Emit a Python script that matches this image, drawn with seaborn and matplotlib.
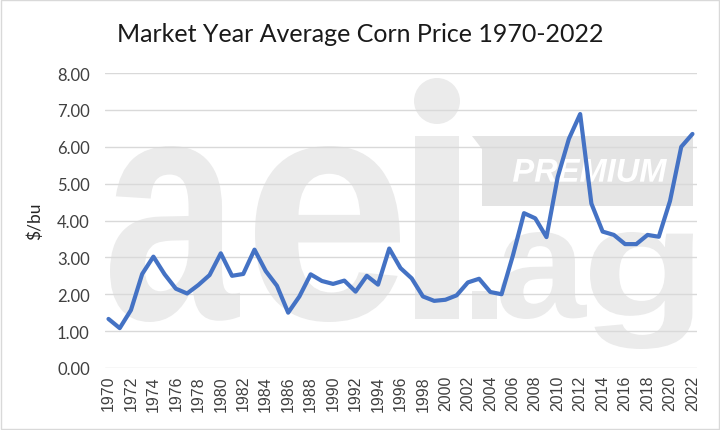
import matplotlib
matplotlib.use("Agg")
import matplotlib.pyplot as plt
import matplotlib.patches as patches
from matplotlib.textpath import TextPath
from matplotlib.font_manager import FontProperties
from matplotlib.path import Path
import seaborn as sns
import pandas as pd

sns.set_theme(style="white")
plt.rcParams['font.family'] = ['Lato', 'DejaVu Sans']

# market year average corn price, $/bu
years = list(range(1970, 2023))
prices = [1.33, 1.08, 1.57, 2.55, 3.02, 2.54, 2.15, 2.02, 2.25, 2.52,
          3.11, 2.50, 2.55, 3.21, 2.63, 2.23, 1.50, 1.94, 2.54, 2.36,
          2.28, 2.37, 2.07, 2.50, 2.26, 3.24, 2.71, 2.43, 1.94, 1.82,
          1.85, 1.97, 2.32, 2.42, 2.06, 2.00, 3.04, 4.20, 4.06, 3.55,
          5.18, 6.22, 6.89, 4.46, 3.70, 3.61, 3.36, 3.36, 3.61, 3.56,
          4.53, 6.00, 6.35]
y_ticks = [0, 1, 2, 3, 4, 5, 6, 7, 8]
x_ticks = list(range(1970, 2023, 2))

df = pd.DataFrame({"Year": years, "Price": prices})

W, H = 720, 431
fig = plt.figure(figsize=(W / 100, H / 100), dpi=100)
fig.patch.set_facecolor("white")

wm = "#ebebeb"


def glyph(s, box, color=wm, weight="bold", style="normal", z=-2):
    # squeeze a glyph into a pixel box (top-left origin) as a background watermark
    x0, y0, x1, y1 = box
    prop = FontProperties(family="Liberation Sans", weight=weight, style=style)
    tp = TextPath((0, 0), s, size=100, prop=prop)
    ext = tp.get_extents()
    v = tp.vertices.copy()
    v[:, 0] = (x0 + (v[:, 0] - ext.x0) / ext.width * (x1 - x0)) / W
    v[:, 1] = ((H - y1) + (v[:, 1] - ext.y0) / ext.height * (y1 - y0)) / H
    p = patches.PathPatch(Path(v, tp.codes), transform=fig.transFigure,
                          facecolor=color, edgecolor="none", zorder=z)
    fig.add_artist(p)


glyph("a", (110, 147, 240, 323))
glyph("e", (255, 147, 400, 323))
glyph("\u0131", (415, 137, 459, 320))
fig.add_artist(patches.Ellipse((437 / W, 1 - 102 / H), 46 / W, 46 / H,
                               transform=fig.transFigure, facecolor=wm,
                               edgecolor="none", zorder=-2))
glyph(".", (472, 292, 497, 320))
glyph("a", (500, 233, 587, 320))
glyph("g", (590, 233, 693, 350))

band = patches.Polygon([(472 / W, 1 - 137 / H), (693 / W, 1 - 137 / H),
                        (693 / W, 1 - 207 / H), (482 / W, 1 - 207 / H),
                        (482 / W, 1 - 150 / H)],
                       closed=True, transform=fig.transFigure, facecolor="#e4e4e4",
                       edgecolor="none", zorder=-1)
fig.add_artist(band)
glyph("PREMIUM", (513, 160, 667, 183), color="white", style="italic", z=-0.5)

ax = fig.add_axes([0.146, 0.144, 0.822, 0.684])
ax.patch.set_alpha(0)

sns.lineplot(data=df, x="Year", y="Price", color="#4472C4", linewidth=3, ax=ax)

ax.set_ylim(0, 8)
ax.set_xlim(1969.7, 2022.4)
ax.set_yticks(y_ticks)
ax.set_yticklabels([f"{v:.2f}" for v in y_ticks], fontsize=12, color="#404040")
ax.set_xticks(x_ticks)
ax.set_xticklabels([str(v) for v in x_ticks], rotation=90, fontsize=11.5,
                   color="#404040", family="Liberation Sans")
ax.tick_params(axis="y", length=0, pad=11)
ax.tick_params(axis="x", length=0, pad=5)
ax.grid(axis="y", color="#d9d9d9", linewidth=1)
ax.grid(axis="x", visible=False)
for s in ax.spines.values():
    s.set_visible(False)

ax.set_xlabel("")
ax.set_ylabel("$/bu", fontsize=12.5, color="#262626", labelpad=10)

fig.text(0.5, 0.919, "Market Year Average Corn Price 1970-2022", fontsize=18,
         color="#1a1a1a", ha="center", va="center")

border = patches.Rectangle((0.002, 0.002), 0.996, 0.996, transform=fig.transFigure,
                           fill=False, edgecolor="#d9d9d9", linewidth=1)
fig.add_artist(border)

fig.savefig("out.png", dpi=100)
